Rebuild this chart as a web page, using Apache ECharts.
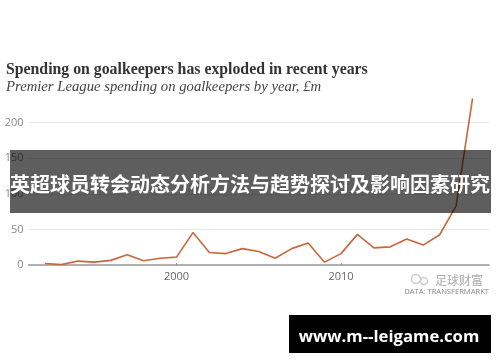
<!DOCTYPE html>
<html><head><meta charset="utf-8">
<style>html,body{margin:0;padding:0;background:#fff}#c{width:500px;height:362px}</style>
<script src="https://cdn.jsdelivr.net/npm/echarts@6/dist/echarts.min.js"></script>
</head><body><div id="c"></div>
<script>
const years = [1992,1993,1994,1995,1996,1997,1998,1999,2000,2001,2002,2003,2004,2005,2006,2007,2008,2009,2010,2011,2012,2013,2014,2015,2016,2017,2018];
const spending = [2,0.5,5.5,4,6.5,14.5,6,9.5,11,45.5,17.5,16,23,19,9.5,23,31,4,16,43,24,25.5,36.5,28,42.5,83,234];
const yTicks = [0,50,100,150,200];
const xTicks = [2000,2010];
const titleText = 'Spending on goalkeepers has exploded in recent years';
const subtitleText = 'Premier League spending on goalkeepers by year, £m';
const bannerText = '英超球员转会动态分析方法与趋势探讨及影响因素研究';
const urlText = 'www.m--leigame.com';
const watermarkText = '足球财富';
const sourceText = 'DATA: TRANSFERMARKT';

const chart = echarts.init(document.getElementById('c'), null, {renderer:'canvas'});
chart.setOption({
  animation:false,
  backgroundColor:'#fff',
  title:[
    {text:titleText,left:6,top:62,padding:0,textStyle:{fontFamily:'Liberation Serif',fontWeight:'bold',fontSize:15.8,color:'#333'}},
    {text:subtitleText,left:6,top:79.5,padding:0,textStyle:{fontFamily:'Liberation Serif',fontStyle:'italic',fontWeight:'normal',fontSize:14.7,color:'#444'}}
  ],
  grid:{left:28.5,right:11,top:94.1,bottom:97},
  xAxis:{type:'value',min:1991,max:2019,
    axisLine:{show:true,onZero:false,lineStyle:{color:'#999',width:1.5}},
    axisTick:{show:true,customValues:xTicks,length:2,inside:true,lineStyle:{color:'#999'}},
    axisLabel:{customValues:xTicks,formatter:v=>String(v),color:'#666',fontFamily:'Open Sans',fontSize:11,margin:6},
    splitLine:{show:false}},
  yAxis:{type:'value',min:0,max:240,
    axisLine:{show:false},
    axisTick:{show:false,customValues:yTicks},
    axisLabel:{customValues:yTicks,color:'#888',fontFamily:'Open Sans',fontSize:11,margin:5},
    splitLine:{show:true,lineStyle:{color:'#e8e8e8',width:1}}},
  series:[{type:'line',data:years.map((y,i)=>[y,spending[i]]),showSymbol:false,smooth:false,z:5,
    lineStyle:{color:'#c8663c',width:1.6}}],
  graphic:[
    {type:'rect',z:100,shape:{x:10,y:150,width:481,height:63},style:{fill:'rgba(0,0,0,0.63)'}},
    {type:'text',z:101,x:250,y:184.5,style:{text:bannerText,fill:'#fff',align:'center',verticalAlign:'middle',fontFamily:'Noto Sans CJK SC',fontWeight:'bold',fontSize:20}},
    {type:'rect',z:100,shape:{x:289,y:315,width:202,height:38},style:{fill:'#000'}},
    {type:'text',z:101,x:389,y:337,style:{text:urlText,fill:'#fff',align:'center',verticalAlign:'middle',fontFamily:'Open Sans',fontWeight:'bold',fontSize:16.7}},
    {type:'text',z:50,x:435,y:280,style:{text:watermarkText,fill:'#aaa',align:'left',verticalAlign:'middle',fontFamily:'Noto Sans CJK SC',fontSize:12}},
    {type:'circle',z:50,shape:{cx:416,cy:279,r:4.5},style:{fill:'none',stroke:'#ccc',lineWidth:1.5}},
    {type:'circle',z:50,shape:{cx:424,cy:281,r:3.5},style:{fill:'none',stroke:'#ccc',lineWidth:1.5}},
    {type:'text',z:50,x:489,y:292,style:{text:sourceText,fill:'#888',align:'right',verticalAlign:'middle',fontFamily:'Open Sans',fontSize:7.6}}
  ]
});
</script></body></html>
